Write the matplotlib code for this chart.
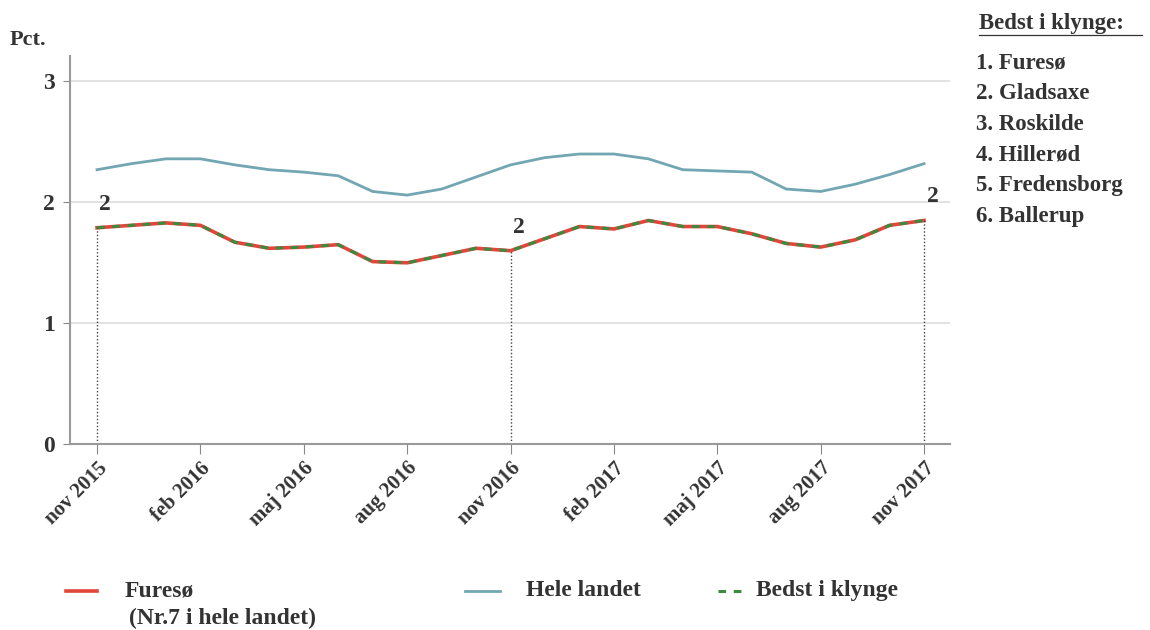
import matplotlib
matplotlib.use('Agg')
import matplotlib.pyplot as plt
from matplotlib.lines import Line2D

plt.rcParams['font.family'] = ['Liberation Serif', 'DejaVu Serif']
plt.rcParams['font.weight'] = 'bold'

# monthly, nov 2015 - nov 2017
months = ['nov 2015', 'dec 2015', 'jan 2016', 'feb 2016', 'mar 2016', 'apr 2016',
          'maj 2016', 'jun 2016', 'jul 2016', 'aug 2016', 'sep 2016', 'okt 2016',
          'nov 2016', 'dec 2016', 'jan 2017', 'feb 2017', 'mar 2017', 'apr 2017',
          'maj 2017', 'jun 2017', 'jul 2017', 'aug 2017', 'sep 2017', 'okt 2017',
          'nov 2017']
hele_landet = [2.27, 2.32, 2.36, 2.36, 2.31, 2.27, 2.25, 2.22, 2.09, 2.06, 2.11, 2.21,
               2.31, 2.37, 2.40, 2.40, 2.36, 2.27, 2.26, 2.25, 2.11, 2.09, 2.15, 2.23,
               2.32]
furesoe = [1.79, 1.81, 1.83, 1.81, 1.67, 1.62, 1.63, 1.65, 1.51, 1.50, 1.56, 1.62,
           1.60, 1.70, 1.80, 1.78, 1.85, 1.80, 1.80, 1.74, 1.66, 1.63, 1.69, 1.81,
           1.85]
bedst = list(furesoe)
rank_idx = [0, 12, 24]
rank_txt = ['2', '2', '2']
klynge = ['Furesø', 'Gladsaxe', 'Roskilde', 'Hillerød', 'Fredensborg', 'Ballerup']

txt = '#333333'
x = list(range(len(months)))

fig = plt.figure(figsize=(11.5, 6.3), dpi=100)
ax = fig.add_axes([0.061, 0.295, 0.765, 0.616])

ax.plot(x, hele_landet, color='#72a6b3', lw=2)
ax.plot(x, furesoe, color='#e2463b', lw=2.6)
ax.plot(x, bedst, color='#3b8a3e', lw=2.2, ls=(0, (2.5, 2.5)))

for i, t in zip(rank_idx, rank_txt):
    ax.vlines(x[i], 0, furesoe[i], colors='#444444', linestyles=(0, (1, 1.5)), lw=1)
    ax.annotate(t, (x[i], furesoe[i]), xytext=(6, 17), textcoords='offset points',
                ha='center', va='center', fontsize=17, color=txt)

ax.set_xlim(-0.78, 24.75)
ax.set_ylim(0, 3.21)
ax.set_yticks([0, 1, 2, 3])
ax.set_yticklabels(['0', '1', '2', '3'], fontsize=17, color=txt)
ax.yaxis.grid(True, color='#dddddd', lw=1.2)
ax.set_axisbelow(True)
ax.set_xticks(x[::3])
ax.set_xticklabels(months[::3], rotation=45, ha='right', rotation_mode='anchor',
                   fontsize=15, color=txt)
ax.tick_params(axis='x', length=7, color='#888888', pad=3)
ax.tick_params(axis='y', length=5, color='#888888', pad=6)
for s in ['top', 'right']:
    ax.spines[s].set_visible(False)
for s in ['left', 'bottom']:
    ax.spines[s].set_color('#999999')
    ax.spines[s].set_linewidth(1.5)

fig.text(0.008, 0.936, 'Pct.', fontsize=16, color=txt, va='center')

# list on the right
fig.text(0.851, 0.963, 'Bedst i klynge:', fontsize=16.5, color=txt, va='center')
fig.add_artist(Line2D([0.851, 0.993], [0.944, 0.944], transform=fig.transFigure,
                      color=txt, lw=0.9))
for k, name in enumerate(klynge):
    fig.text(0.849, 0.9 - k * 0.0487, '%d. %s' % (k + 1, name), fontsize=16.5,
             color=txt, va='center')

# legend at the bottom
ly = 0.062
fig.add_artist(Line2D([0.057, 0.084], [ly, ly], transform=fig.transFigure,
                      color='#e2463b', lw=2.6))
fig.text(0.108, ly, 'Furesø', fontsize=17, color=txt, va='center')
fig.text(0.112, ly - 0.043, '(Nr.7 i hele landet)', fontsize=17, color=txt, va='center')
fig.add_artist(Line2D([0.404, 0.435], [ly, ly], transform=fig.transFigure,
                      color='#72a6b3', lw=2))
fig.text(0.457, ly, 'Hele landet', fontsize=17, color=txt, va='center')
fig.add_artist(Line2D([0.624, 0.645], [ly, ly], transform=fig.transFigure,
                      color='#3b8a3e', lw=2.2, ls=(0, (2.5, 2.5))))
fig.text(0.657, ly, 'Bedst i klynge', fontsize=17, color=txt, va='center')

plt.savefig('out.png', dpi=100)
